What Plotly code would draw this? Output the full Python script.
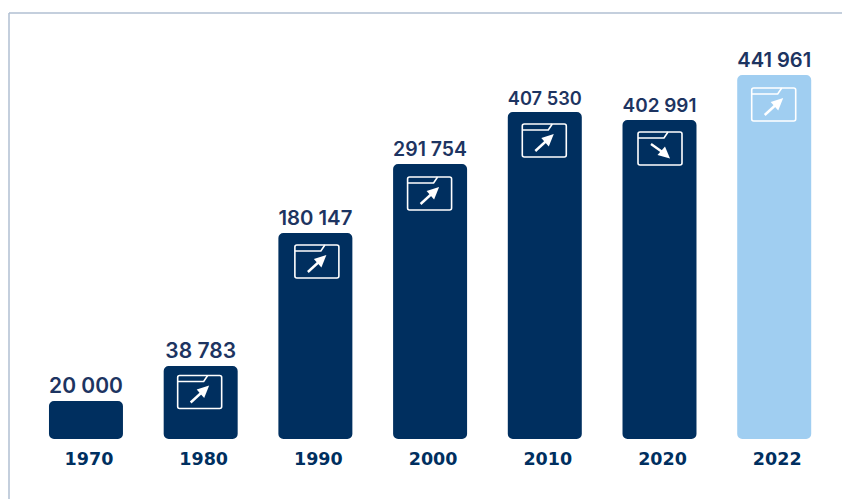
import plotly.graph_objects as go

years = ["1970", "1980", "1990", "2000", "2010", "2020", "2022"]
value_labels = ["20 000", "38 783", "180 147", "291 754", "407 530", "402 991", "441 961"]
# The source bars are not proportional to their labels: heights are read off the picture
bar_heights = [38, 73, 206, 275, 327, 319, 364]
bar_colors = ["#002F5F"] * 6 + ["#A0CEF1"]
trends = [None, "up", "up", "up", "up", "down", "up"]
icon_drop = [0, 26, 28.5, 29.5, 28.5, 28.5, 29.5]
icon_dx = [0, -1, 1.5, -0.5, -0.5, 0.5, -0.5]

CORNER = 5
TEXT = "#1D3461"
RULE = "#B0BFD2"

fig = go.Figure()
fig.add_bar(x=years, y=bar_heights, base=0, width=0.645,
            marker=dict(color=bar_colors, cornerradius=CORNER, line_width=0),
            text=value_labels, textposition="outside", textangle=0, cliponaxis=False,
            textfont=dict(family="Inter", size=21, color=TEXT, weight=600),
            hoverinfo="skip", showlegend=False)


def rounded_box(dx):
    l, r, t, b, c = dx - 22, dx + 22, 16.5, -16.5, 2
    return (f"M{l + c},{t} L{r - c},{t} Q{r},{t} {r},{t - c} L{r},{b + c} Q{r},{b} {r - c},{b} "
            f"L{l + c},{b} Q{l},{b} {l},{b + c} L{l},{t - c} Q{l},{t} {l + c},{t} Z")


def icon_shapes(i, y, dx, trend):
    common = dict(xref="x", yref="y", xsizemode="pixel", ysizemode="pixel", xanchor=i, yanchor=y)
    line = dict(color="white", width=1.6)
    tab = f"M{dx - 22},10.5 L{dx + 4},10.5 L{dx + 8},16.5"
    if trend == "up":
        stem = f"M{dx - 9},-10.5 L{dx + 3},0.5"
        head = f"M{dx + 9.5},6.5 L{dx - 3},2.5 L{dx + 4.5},-6 Z"
    else:
        stem = f"M{dx - 9},4.5 L{dx + 3},-4"
        head = f"M{dx + 10},-10 L{dx - 2.5},-6.5 L{dx + 5},2 Z"
    return [
        dict(type="path", path=rounded_box(dx), line=line, **common),
        dict(type="path", path=tab, line=line, **common),
        dict(type="path", path=stem, line=dict(color="white", width=2.4), **common),
        dict(type="path", path=head, fillcolor="white", line_width=0, **common),
    ]


shapes = [
    dict(type="line", xref="paper", yref="paper", x0=0, x1=1, y0=1, y1=1, line=dict(color=RULE, width=1.5)),
    dict(type="line", xref="paper", yref="paper", x0=0, x1=0, y0=-0.1408, y1=1, line=dict(color=RULE, width=1.5)),
]
for i, (h, drop, dx, trend) in enumerate(zip(bar_heights, icon_drop, icon_dx, trends)):
    if trend:
        shapes += icon_shapes(i, h - drop, dx, trend)

fig.update_layout(
    width=842, height=499, autosize=False,
    margin=dict(l=9, r=0, t=13, b=60, pad=0),
    paper_bgcolor="white", plot_bgcolor="white", shapes=shapes,
    xaxis=dict(type="category", categoryorder="array", categoryarray=years,
               range=[-0.671, 6.591], showgrid=False, zeroline=False, showline=False,
               ticks="", ticklabelstandoff=7, ticklabelshift=3,
               tickfont=dict(family="DejaVu Sans", size=17.5, color="#002F5F", weight=700)),
    yaxis=dict(range=[0, 426], visible=False),
)
fig.write_html("out.html", default_width="842px", default_height="499px",
               config=dict(displayModeBar=False),
               post_script="document.body.style.margin='0';document.documentElement.style.overflow='hidden';")
